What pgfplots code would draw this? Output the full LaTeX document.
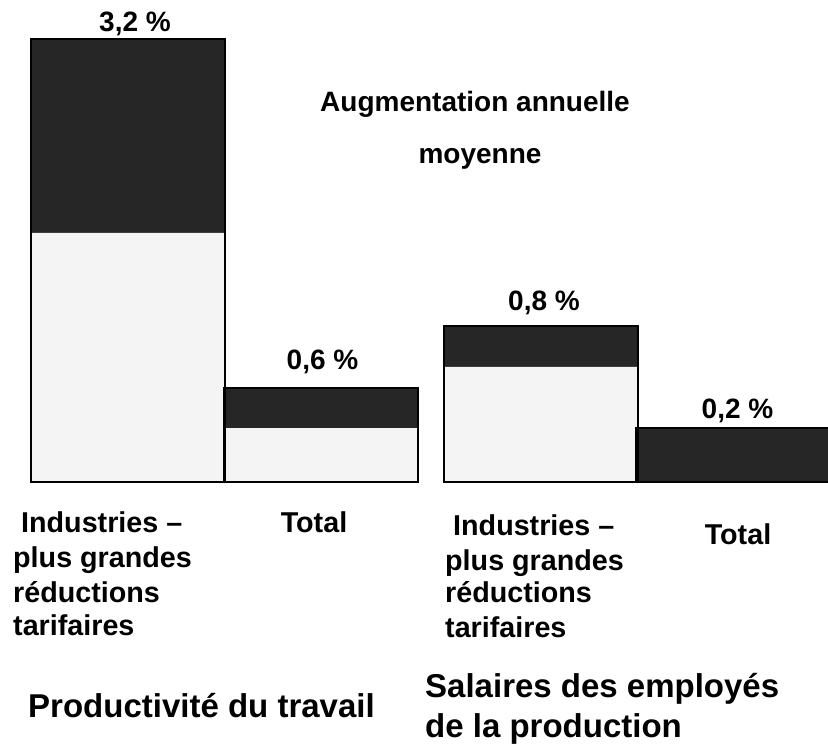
\documentclass[border=0pt]{standalone}
\usepackage{pgfplots}
\pgfplotsset{compat=1.18}
\usepackage{fontspec}
\setmainfont{Liberation Sans}
\definecolor{darkbar}{HTML}{262626}
\definecolor{lightbar}{HTML}{F4F4F4}
\newcommand{\pct}{\fontsize{28}{32}\selectfont\bfseries}
\newcommand{\cat}{\fontsize{28.7}{34}\selectfont\bfseries}
\newcommand{\grp}{\fontsize{33}{40}\selectfont\bfseries}
\newcommand{\ttl}{\fontsize{28}{32}\selectfont\bfseries}
\begin{document}
\begin{tikzpicture}
\begin{axis}[
  width=828pt, height=752pt, scale only axis, hide axis,
  xmin=0, xmax=828, ymin=-1.9503, ymax=3.4817,
  ybar, bar shift=0pt, bar width=194, clip=true,
]
% bar heights as drawn in the picture
\addplot[fill=darkbar, draw=none] coordinates {(128,3.2) (321,0.679) (541,1.127) (733,0.390)};
\addplot[fill=lightbar, draw=none] coordinates {(128,1.799) (321,0.390) (541,0.831)};
\addplot[fill=none, draw=black, line width=1.6pt] coordinates {(128,3.2) (321,0.679) (541,1.127) (733,0.390)};
\path (rel axis cs:0,0) rectangle (rel axis cs:1,1);
% value labels
\node[anchor=base, inner sep=0] at (axis cs:135,3.2505) {\pct 3,2 \%};
\node[anchor=base, inner sep=0] at (axis cs:322.5,0.809) {\pct 0,6 \%};
\node[anchor=base, inner sep=0] at (axis cs:544,1.242) {\pct 0,8 \%};
\node[anchor=base, inner sep=0] at (axis cs:737.5,0.462) {\pct 0,2 \%};
% title
\node[anchor=base, inner sep=0] at (axis cs:475,2.673) {\ttl Augmentation annuelle};
\node[anchor=base, inner sep=0] at (axis cs:480,2.304) {\ttl moyenne};
% category labels
\node[anchor=base west, inner sep=0] at (axis cs:21,-0.368) {\cat Industries --};
\node[anchor=base west, inner sep=0] at (axis cs:13,-0.621) {\cat plus grandes};
\node[anchor=base west, inner sep=0] at (axis cs:13,-0.867) {\cat réductions};
\node[anchor=base west, inner sep=0] at (axis cs:13,-1.112) {\cat tarifaires};
\node[anchor=base, inner sep=0] at (axis cs:314,-0.368) {\cat Total};
\node[anchor=base west, inner sep=0] at (axis cs:453,-0.383) {\cat Industries --};
\node[anchor=base west, inner sep=0] at (axis cs:445,-0.636) {\cat plus grandes};
\node[anchor=base west, inner sep=0] at (axis cs:445,-0.874) {\cat réductions};
\node[anchor=base west, inner sep=0] at (axis cs:445,-1.120) {\cat tarifaires};
\node[anchor=base, inner sep=0] at (axis cs:738,-0.448) {\cat Total};
% group labels
\node[anchor=base west, inner sep=0] at (axis cs:28,-1.698) {\grp Productivité du travail};
\node[anchor=base west, inner sep=0] at (axis cs:425,-1.560) {\grp Salaires des employés};
\node[anchor=base west, inner sep=0] at (axis cs:425,-1.842) {\grp de la production};
\end{axis}
\end{tikzpicture}
\end{document}
